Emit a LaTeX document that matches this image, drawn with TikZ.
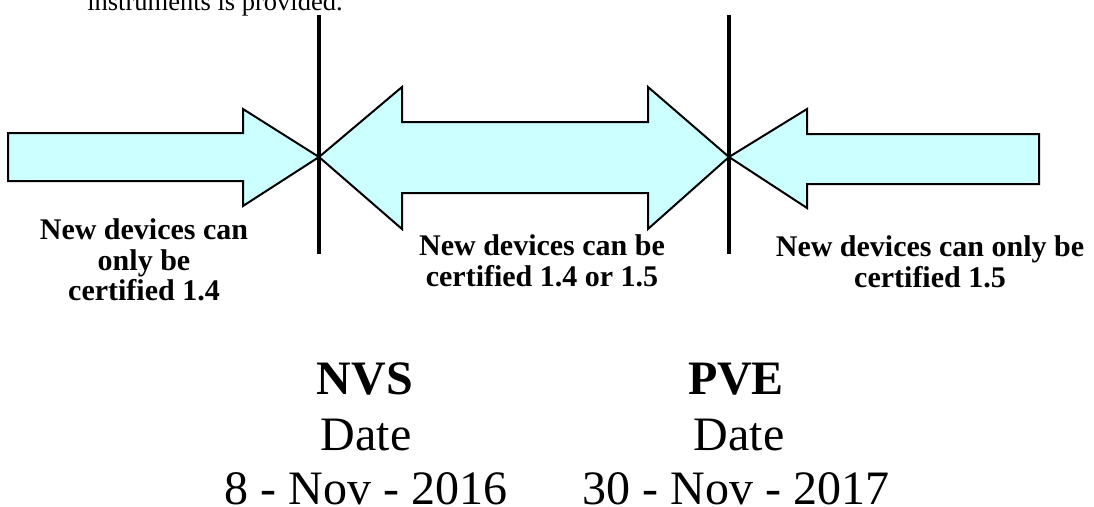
\documentclass[tikz,border=0pt]{standalone}
\usepackage{fontspec}
\setmainfont{Liberation Serif}
\definecolor{arrowfill}{HTML}{CCFFFF}
\begin{document}
\begin{tikzpicture}[x=1pt,y=-1pt,
  blockarrow/.style={draw=black,fill=arrowfill,line width=2pt,line join=miter},
  divider/.style={draw=black,line width=3.4pt},
  lbl/.style={font=\fontsize{30}{30.5}\selectfont\bfseries,align=center,inner sep=0pt,anchor=north},
  head/.style={font=\fontsize{48}{56}\selectfont\bfseries,inner sep=0pt,anchor=base},
  datetxt/.style={font=\fontsize{48}{56}\selectfont,inner sep=0pt,anchor=base},
  note/.style={font=\fontsize{26.5}{30}\selectfont,inner sep=0pt,anchor=base}]
\useasboundingbox (0,0) rectangle (1094,506);

% tip points
\coordinate (tipL) at (319,157);
\coordinate (tipR) at (729,157);

% left arrow (pointing right)
\path[blockarrow] (8,133) -- (243,133) -- (243,109) -- (tipL) -- (243,206) -- (243,181) -- (8,181) -- cycle;
% middle double arrow
\path[blockarrow] (tipL) -- (402,87) -- (402,122) -- (648,122) -- (648,87) -- (tipR)
  -- (648,229) -- (648,193) -- (402,193) -- (402,229) -- cycle;
% right arrow (pointing left)
\path[blockarrow] (1039,134) -- (807,134) -- (807,109) -- (tipR) -- (807,208) -- (807,184) -- (1039,184) -- cycle;

% dividers
\coordinate (d1top) at (319,15);
\coordinate (d1bot) at (319,254);
\coordinate (d2top) at (729,15);
\coordinate (d2bot) at (729,254);
\draw[divider] (d1top) -- (d1bot);
\draw[divider] (d2top) -- (d2bot);

% top note (cut off at the top edge, as in the original)
\node[note] (note) at (215,10) {instruments is provided.};

% labels
\node[lbl] (lab1) at (144,218.5) {New devices can\\only be\\certified 1.4};
\node[lbl] (lab2) at (542,234.5) {New devices can be\\certified 1.4 or 1.5};
\node[lbl] (lab3) at (930,235.5) {New devices can only be\\certified 1.5};

% milestones
\node[head] (nvs) at (365,394) {NVS};
\node[datetxt] (nvsd) at (366,450) {Date};
\node[datetxt] (nvsdate) at (366,504) {8 - Nov - 2016};
\node[head] (pve) at (736,394) {PVE};
\node[datetxt] (pved) at (739,450) {Date};
\node[datetxt] (pvedate) at (736,504) {30 - Nov - 2017};
\end{tikzpicture}
\end{document}
